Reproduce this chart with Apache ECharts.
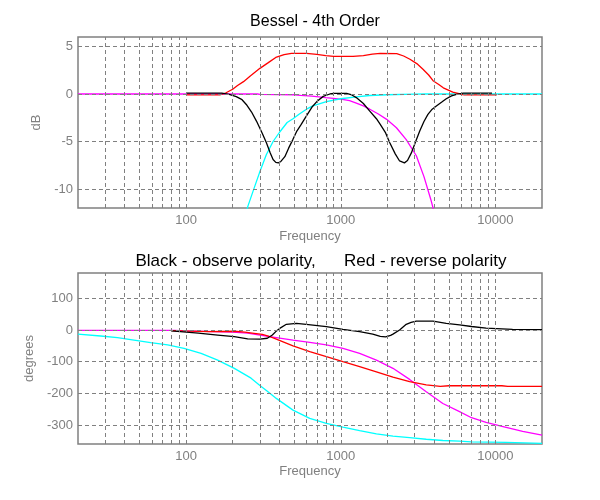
<!DOCTYPE html>
<html>
<head>
<meta charset="utf-8">
<script src="https://cdn.jsdelivr.net/npm/echarts@6/dist/echarts.min.js"></script>
<style>html,body{margin:0;padding:0;background:#fff}#c{width:600px;height:500px}</style>
</head>
<body>
<div id="c"></div>
<script>
// ---------- data ----------
const titleTop = 'Bessel - 4th Order';
const titleBottom = 'Black - observe polarity,      Red - reverse polarity';
const xTickLabels = [100, 1000, 10000];
const xGridFreqs = [30,40,50,60,70,80,90,100,200,300,400,500,600,700,800,900,1000,2000,3000,4000,5000,6000,7000,8000,9000,10000];
const yTicksTop = [5, 0, -5, -10];
const yTicksBottom = [100, 0, -100, -200, -300];

// magnitude (dB) vs frequency (Hz)
const magLowpass = [[20,0],[100,0],[290,0],[300,-0.03],[500,-0.08],[550,-0.15],[650,-0.22],[800,-0.38],[1000,-0.55],[1140,-0.7],[1260,-0.95],[1400,-1.25],[1540,-1.6],[1750,-2.1],[1980,-2.67],[2290,-3.55],[2650,-4.8],[3080,-6.5],[3450,-8.7],[3820,-11.1],[4100,-13]];
const magHighpass = [[220,-15],[251,-11.8],[270,-10.3],[298,-8.3],[330,-6.4],[365,-5.0],[403,-4.0],[450,-3.0],[491,-2.6],[540,-2.1],[600,-1.6],[660,-1.25],[807,-0.8],[1000,-0.5],[1260,-0.3],[1540,-0.16],[2000,-0.08],[3000,-0.02],[3500,0],[20000,0]];
const magReverse = [[100,-0.1],[165,-0.1],[180,0.1],[200,0.5],[215,0.9],[235,1.3],[260,1.9],[300,2.7],[340,3.3],[380,3.85],[430,4.15],[480,4.27],[600,4.27],[700,4.18],[800,4.05],[900,3.97],[1000,3.95],[1200,3.97],[1400,4.05],[1600,4.2],[1800,4.27],[2300,4.25],[2550,4.0],[2800,3.66],[3100,3.2],[3400,2.6],[3700,2.0],[3950,1.4],[4300,1.0],[4600,0.65],[5300,0.2],[5900,0],[6300,-0.1],[10200,-0.1]];
const magNormal = [[100,0.1],[170,0.1],[190,-0.05],[211,-0.28],[230,-0.6],[245,-1.1],[265,-1.9],[285,-2.85],[310,-4.1],[330,-5.1],[350,-6.2],[365,-6.9],[380,-7.2],[395,-7.25],[410,-7.1],[435,-6.6],[460,-5.7],[490,-4.8],[520,-3.9],[555,-3.2],[600,-2.3],[650,-1.4],[700,-0.8],[770,-0.25],[850,0],[900,0.07],[1090,0.07],[1180,-0.1],[1260,-0.38],[1400,-1.0],[1540,-1.8],[1700,-2.6],[1800,-3.2],[1950,-4.1],[2070,-5.1],[2250,-6.3],[2400,-7.05],[2580,-7.25],[2700,-7.0],[2860,-6.2],[3050,-5.0],[3240,-3.9],[3450,-2.9],[3660,-2.15],[3900,-1.6],[4150,-1.27],[4500,-0.85],[4810,-0.5],[5200,-0.2],[5600,-0.03],[6200,0.1],[9500,0.1]];

// phase (degrees) vs frequency (Hz)
const phLowpass = [[20,-1],[84,-1],[100,-3],[200,-7],[250,-10],[300,-16],[383,-24],[491,-32],[630,-39],[807,-47],[1033,-58],[1324,-74],[1700,-95],[2175,-121],[2786,-156],[3570,-195],[4570,-232],[5860,-258],[7000,-277],[8700,-292],[11200,-305],[15000,-320],[20000,-332]];
const phHighpass = [[20,-13],[28,-19],[36,-24],[46,-32],[59,-40],[76,-47],[97,-58],[125,-74],[160,-95],[205,-121],[263,-152],[300,-175],[340,-196],[383,-216],[491,-253],[630,-279],[807,-295],[1033,-307],[1324,-318],[1700,-328],[2175,-335],[2786,-340],[3570,-345],[4570,-349],[5860,-351],[7000,-353],[11750,-355],[20000,-358]];
const phReverse = [[80,-2],[140,-5],[205,-4],[240,-7],[275,-10.5],[311,-14],[340,-19],[383,-29],[491,-50],[630,-68],[807,-84],[1033,-100],[1324,-116],[1700,-132],[2175,-149],[2786,-163],[3570,-173],[4400,-178],[5000,-176],[11000,-176],[12000,-178],[20000,-178]];
const phNormal = [[80,-3],[120,-10],[160,-16],[205,-21],[250,-28],[300,-29],[335,-26],[361,-16],[380,-5],[403,5],[445,18],[517,21],[598,18],[807,10.5],[1033,2],[1324,-5],[1610,-13],[1800,-20],[1950,-22],[2100,-17],[2175,-13],[2400,0],[2650,18],[2850,24],[3080,28],[3945,28],[4810,21],[5860,16],[7000,11],[8700,6],[12900,2],[20000,1]];

// ---------- chart ----------
const FONT = "'Liberation Sans', Arial, sans-serif";
const GRAY = '#808080';
const chart = echarts.init(document.getElementById('c'), null, {renderer: 'canvas'});

function xAxisCfg(idx, gap) {
  return {
    type: 'log', logBase: 10, gridIndex: idx, min: 20, max: 20000,
    name: 'Frequency', nameLocation: 'middle', nameGap: gap,
    nameTextStyle: {color: GRAY, fontSize: 13, fontFamily: FONT},
    axisLine: {show: false}, axisTick: {show: false}, splitLine: {show: false},
    axisLabel: {
      color: GRAY, fontSize: 13, fontFamily: FONT, margin: 6,
      showMinLabel: false, showMaxLabel: false,
      formatter: function (v) {
        const r = Math.round(v);
        return xTickLabels.indexOf(r) >= 0 ? String(r) : '';
      }
    }
  };
}
function yAxisCfg(idx, min, max, ticks, name, gap) {
  return {
    type: 'value', gridIndex: idx, min: min, max: max,
    name: name, nameLocation: 'middle', nameGap: gap,
    nameTextStyle: {color: GRAY, fontSize: 13, fontFamily: FONT},
    axisLine: {show: false}, axisTick: {show: false}, splitLine: {show: false},
    axisLabel: {color: GRAY, fontSize: 13, fontFamily: FONT, margin: 5, customValues: ticks}
  };
}
function gridSeries(idx, hTicks) {
  return {
    type: 'line', xAxisIndex: idx, yAxisIndex: idx, z: 1, silent: true,
    data: [[1000, 0]], showSymbol: false, symbol: 'none',
    lineStyle: {opacity: 0},
    markLine: {
      silent: true, symbol: ['none', 'none'], label: {show: false},
      lineStyle: {type: [4, 3], color: GRAY, width: 1},
      emphasis: {disabled: true},
      data: xGridFreqs.map(v => ({xAxis: v})).concat(hTicks.map(v => ({yAxis: v})))
    }
  };
}
function lineSeries(idx, data, color) {
  return {
    type: 'line', xAxisIndex: idx, yAxisIndex: idx, data: data,
    showSymbol: false, symbol: 'none', z: 3, clip: true,
    lineStyle: {color: color, width: 1.3}
  };
}

chart.setOption({
  animation: false,
  backgroundColor: '#fff',
  title: [
    {text: titleTop, left: 310, top: 9, textAlign: 'center',
     textStyle: {color: '#000', fontSize: 16, fontWeight: 'normal', fontFamily: FONT}},
    {text: titleBottom, left: 316, top: 248, textAlign: 'center',
     textStyle: {color: '#000', fontSize: 17, fontWeight: 'normal', fontFamily: FONT}}
  ],
  grid: [
    {left: 78, top: 37, width: 464, height: 171, show: true, borderColor: GRAY, borderWidth: 1.5, backgroundColor: 'transparent'},
    {left: 78, top: 273, width: 464, height: 171, show: true, borderColor: GRAY, borderWidth: 1.5, backgroundColor: 'transparent'}
  ],
  xAxis: [xAxisCfg(0, 22), xAxisCfg(1, 21)],
  yAxis: [
    yAxisCfg(0, -12, 6, yTicksTop, 'dB', 28),
    yAxisCfg(1, -360, 180, yTicksBottom, 'degrees', 35)
  ],
  series: [
    gridSeries(0, yTicksTop),
    gridSeries(1, yTicksBottom),
    lineSeries(0, magLowpass, '#ff00ff'),
    lineSeries(0, magHighpass, '#00ffff'),
    lineSeries(0, magReverse, '#ff0000'),
    lineSeries(0, magNormal, '#000000'),
    lineSeries(1, phLowpass, '#ff00ff'),
    lineSeries(1, phHighpass, '#00ffff'),
    lineSeries(1, phReverse, '#ff0000'),
    lineSeries(1, phNormal, '#000000')
  ]
});
</script>
</body>
</html>
